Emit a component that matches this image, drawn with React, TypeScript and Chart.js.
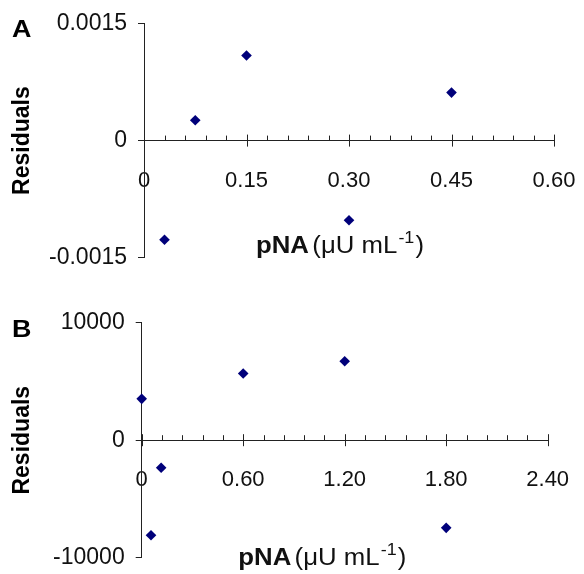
import React, { useEffect, useRef } from "react";
import { Chart, registerables } from "chart.js";

Chart.register(...registerables);

// ---- Data ----
const xA = [0.03, 0.075, 0.15, 0.30, 0.45];
const yA = [-0.00127, 0.00026, 0.00109, -0.00102, 0.000615];

const xB = [0, 0.115, 0.055, 0.60, 1.20, 1.80];
const yB = [3520, -2350, -8090, 5680, 6720, -7460];

const xTicksA = [0, 0.15, 0.30, 0.45, 0.60];
const xTickLabelsA = ["0", "0.15", "0.30", "0.45", "0.60"];
const yTicksA = [-0.0015, 0, 0.0015];
const yTickLabelsA = ["-0.0015", "0", "0.0015"];

const xTicksB = [0, 0.60, 1.20, 1.80, 2.40];
const xTickLabelsB = ["0", "0.60", "1.20", "1.80", "2.40"];
const yTicksB = [-10000, 0, 10000];
const yTickLabelsB = ["-10000", "0", "10000"];

const yTitle = "Residuals";
const xTitleBold = "pNA";
const xTitleNormal = "(μU mL";
const xTitleSup = "-1";
const xTitleEnd = ")";

const FONT = '"Liberation Sans", Arial, Helvetica, sans-serif';
const INK = "#111";
const AXIS = "#222";
const MARK = "#00007a";

type Panel = {
  letter: string;
  xs: number[];
  ys: number[];
  xMin: number;
  xMax: number;
  yMin: number;
  yMax: number;
  xTicks: number[];
  xTickLabels: string[];
  yTicks: number[];
  yTickLabels: string[];
  minorStep: number;
  pad: { top: number; bottom: number; left: number; right: number };
  yWidth: number;
  letterPos: [number, number];
  titlePos: [number, number];
};

const panels: Panel[] = [
  {
    letter: "A",
    xs: xA,
    ys: yA,
    xMin: 0,
    xMax: 0.6,
    yMin: -0.0015,
    yMax: 0.0015,
    xTicks: xTicksA,
    xTickLabels: xTickLabelsA,
    yTicks: yTicksA,
    yTickLabels: yTickLabelsA,
    minorStep: 0.03,
    pad: { top: 23.5, bottom: 29.3, left: 0, right: 30 },
    yWidth: 144,
    letterPos: [12, 37],
    titlePos: [256, 253],
  },
  {
    letter: "B",
    xs: xB,
    ys: yB,
    xMin: 0,
    xMax: 2.4,
    yMin: -10000,
    yMax: 10000,
    xTicks: xTicksB,
    xTickLabels: xTickLabelsB,
    yTicks: yTicksB,
    yTickLabels: yTickLabelsB,
    minorStep: 0.12,
    pad: { top: 35.7, bottom: 16.3, left: 0, right: 36.3 },
    yWidth: 141.7,
    letterPos: [12, 50],
    titlePos: [238.3, 278],
  },
];

const decoPlugin = {
  id: "panelDeco",
  afterDraw(chart: any, _args: any, opts: any) {
    const { ctx } = chart;
    const xs = chart.scales.x;
    const ys = chart.scales.y;
    const y0 = ys.getPixelForValue(0);
    ctx.save();
    // x-axis tick marks (major cross the axis, minor point up)
    ctx.strokeStyle = AXIS;
    ctx.lineWidth = 1;
    const n = Math.round((opts.xMax - opts.xMin) / opts.minorStep);
    for (let i = 0; i <= n; i++) {
      const v = opts.xMin + i * opts.minorStep;
      const px = Math.round(xs.getPixelForValue(v)) + 0.5;
      const major = i % 5 === 0;
      ctx.beginPath();
      ctx.moveTo(px, y0 - (major ? 6 : 5));
      ctx.lineTo(px, y0 + (major ? 6 : 0));
      ctx.stroke();
    }
    // panel letter
    ctx.fillStyle = "#000";
    ctx.textBaseline = "alphabetic";
    ctx.textAlign = "left";
    ctx.save();
    ctx.translate(opts.letterPos[0], opts.letterPos[1]);
    ctx.scale(1.12, 1);
    ctx.font = `bold 24px ${FONT}`;
    ctx.fillText(opts.letter, 0, 0);
    ctx.restore();
    // x-axis title with mixed styles
    ctx.save();
    ctx.translate(opts.titlePos[0], opts.titlePos[1]);
    ctx.scale(1.12, 1);
    ctx.fillStyle = INK;
    let cx = 0;
    ctx.font = `bold 23px ${FONT}`;
    ctx.fillText(xTitleBold, cx, 0);
    cx += ctx.measureText(xTitleBold).width + 3;
    ctx.font = `23px ${FONT}`;
    ctx.fillText(xTitleNormal, cx, 0);
    cx += ctx.measureText(xTitleNormal).width + 1;
    ctx.font = `16px ${FONT}`;
    ctx.fillText(xTitleSup, cx, -10);
    cx += ctx.measureText(xTitleSup).width + 1;
    ctx.font = `23px ${FONT}`;
    ctx.fillText(xTitleEnd, cx, 0);
    ctx.restore();
    ctx.restore();
  },
};

function PanelChart({ p }: { p: Panel }) {
  const ref = useRef<HTMLCanvasElement | null>(null);
  useEffect(() => {
    if (!ref.current) return;
    const chart = new Chart(ref.current, {
      type: "scatter",
      data: {
        datasets: [
          {
            data: p.xs.map((x, i) => ({ x, y: p.ys[i] })),
            pointStyle: "rectRot",
            pointRadius: 5.3,
            pointHoverRadius: 5.3,
            backgroundColor: MARK,
            borderColor: MARK,
            borderWidth: 0,
            clip: false as any,
          },
        ],
      },
      options: {
        responsive: false,
        animation: false,
        events: [],
        layout: { padding: p.pad },
        plugins: {
          legend: { display: false },
          tooltip: { enabled: false },
          panelDeco: {
            xMin: p.xMin,
            xMax: p.xMax,
            minorStep: p.minorStep,
            letter: p.letter,
            letterPos: p.letterPos,
            titlePos: p.titlePos,
          },
        } as any,
        scales: {
          x: {
            type: "linear",
            position: { y: 0 } as any,
            min: p.xMin,
            max: p.xMax,
            afterBuildTicks: (s: any) => {
              s.ticks = p.xTicks.map((v) => ({ value: v }));
            },
            afterFit: (s: any) => {
              s.paddingLeft = 0;
              s.paddingRight = 0;
              s.paddingTop = 0;
              s.paddingBottom = 0;
            },
            grid: { display: true, drawOnChartArea: false, drawTicks: false, color: AXIS },
            border: { display: true, color: AXIS, width: 1 },
            ticks: {
              autoSkip: false,
              maxRotation: 0,
              padding: 27,
              color: INK,
              font: { family: FONT, size: 22 },
              callback: (_v: any, i: number) => p.xTickLabels[i],
            },
          },
          y: {
            type: "linear",
            position: "left",
            min: p.yMin,
            max: p.yMax,
            afterBuildTicks: (s: any) => {
              s.ticks = p.yTicks.map((v) => ({ value: v }));
            },
            afterFit: (s: any) => {
              s.width = p.yWidth;
              s.paddingLeft = 0;
              s.paddingRight = 0;
              s.paddingTop = 0;
              s.paddingBottom = 0;
            },
            grid: { display: true, drawOnChartArea: false, drawTicks: true, tickLength: 6, color: AXIS },
            border: { display: true, color: AXIS, width: 1 },
            ticks: {
              padding: 11,
              color: INK,
              font: { family: FONT, size: 23 },
              callback: (_v: any, i: number) => p.yTickLabels[i],
            },
            title: {
              display: true,
              text: yTitle,
              color: "#000",
              padding: { top: 9, bottom: 0 },
              font: { family: FONT, size: 23, weight: "bold" },
            },
          },
        },
      },
      plugins: [decoPlugin],
    });
    return () => chart.destroy();
  }, [p]);
  return <canvas ref={ref} width={584} height={287} style={{ display: "block", width: 584, height: 287 }} />;
}

export default function App() {
  return (
    <div style={{ position: "absolute", left: 0, top: 0, width: 584, height: 574, background: "#fff" }}>
      {panels.map((p) => (
        <PanelChart key={p.letter} p={p} />
      ))}
    </div>
  );
}
